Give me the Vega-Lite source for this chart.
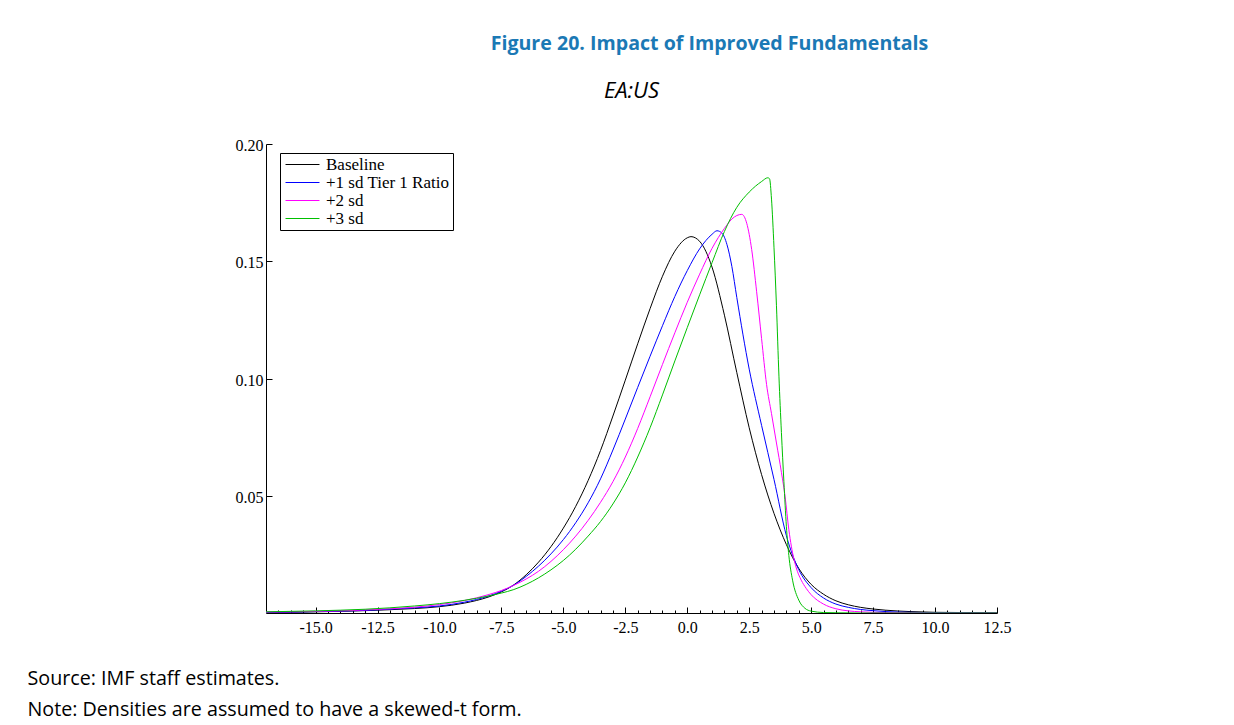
{
  "$schema": "https://vega.github.io/schema/vega-lite/v6.json",
  "width": 731,
  "height": 469,
  "autosize": "none",
  "padding": {"left": 266, "top": 144, "right": 237, "bottom": 112},
  "background": "white",
  "title": {
    "text": "Figure 20. Impact of Improved Fundamentals",
    "font": "Open Sans",
    "fontSize": 19.6,
    "fontWeight": "bold",
    "color": "#1b79b5",
    "anchor": "middle",
    "dx": 78,
    "offset": 24
  },
  "datasets": {
    "dens": [
      {"series": "Baseline", "x": -17, "d": 0.0002},
      {"series": "Baseline", "x": -16, "d": 0.0003},
      {"series": "Baseline", "x": -15, "d": 0.0005},
      {"series": "Baseline", "x": -14, "d": 0.0007},
      {"series": "Baseline", "x": -13, "d": 0.0010},
      {"series": "Baseline", "x": -12, "d": 0.0014},
      {"series": "Baseline", "x": -11, "d": 0.0019},
      {"series": "Baseline", "x": -10, "d": 0.0027},
      {"series": "Baseline", "x": -9, "d": 0.0042},
      {"series": "Baseline", "x": -8, "d": 0.0069},
      {"series": "Baseline", "x": -7.5, "d": 0.0090},
      {"series": "Baseline", "x": -7, "d": 0.0120},
      {"series": "Baseline", "x": -6.5, "d": 0.0163},
      {"series": "Baseline", "x": -6, "d": 0.0217},
      {"series": "Baseline", "x": -5.5, "d": 0.0283},
      {"series": "Baseline", "x": -5, "d": 0.0362},
      {"series": "Baseline", "x": -4.5, "d": 0.0455},
      {"series": "Baseline", "x": -4, "d": 0.0565},
      {"series": "Baseline", "x": -3.5, "d": 0.0693},
      {"series": "Baseline", "x": -3, "d": 0.0840},
      {"series": "Baseline", "x": -2.5, "d": 0.0993},
      {"series": "Baseline", "x": -2, "d": 0.1148},
      {"series": "Baseline", "x": -1.5, "d": 0.1298},
      {"series": "Baseline", "x": -1, "d": 0.1436},
      {"series": "Baseline", "x": -0.5, "d": 0.1543},
      {"series": "Baseline", "x": 0, "d": 0.1600},
      {"series": "Baseline", "x": 0.15, "d": 0.1605},
      {"series": "Baseline", "x": 0.5, "d": 0.1585},
      {"series": "Baseline", "x": 1, "d": 0.1475},
      {"series": "Baseline", "x": 1.5, "d": 0.1270},
      {"series": "Baseline", "x": 2, "d": 0.1025},
      {"series": "Baseline", "x": 2.5, "d": 0.0790},
      {"series": "Baseline", "x": 3, "d": 0.0590},
      {"series": "Baseline", "x": 3.5, "d": 0.0425},
      {"series": "Baseline", "x": 4, "d": 0.0292},
      {"series": "Baseline", "x": 4.5, "d": 0.0190},
      {"series": "Baseline", "x": 5, "d": 0.0122},
      {"series": "Baseline", "x": 5.5, "d": 0.0080},
      {"series": "Baseline", "x": 6, "d": 0.0052},
      {"series": "Baseline", "x": 6.5, "d": 0.0035},
      {"series": "Baseline", "x": 7, "d": 0.0024},
      {"series": "Baseline", "x": 7.5, "d": 0.0017},
      {"series": "Baseline", "x": 8, "d": 0.0012},
      {"series": "Baseline", "x": 9, "d": 0.0006},
      {"series": "Baseline", "x": 10, "d": 0.0003},
      {"series": "Baseline", "x": 11, "d": 0.0002},
      {"series": "Baseline", "x": 12.5, "d": 0.0001},

      {"series": "+1 sd Tier 1 Ratio", "x": -17, "d": 0.0003},
      {"series": "+1 sd Tier 1 Ratio", "x": -16, "d": 0.0004},
      {"series": "+1 sd Tier 1 Ratio", "x": -15, "d": 0.0006},
      {"series": "+1 sd Tier 1 Ratio", "x": -14, "d": 0.0008},
      {"series": "+1 sd Tier 1 Ratio", "x": -13, "d": 0.0011},
      {"series": "+1 sd Tier 1 Ratio", "x": -12, "d": 0.0016},
      {"series": "+1 sd Tier 1 Ratio", "x": -11, "d": 0.0022},
      {"series": "+1 sd Tier 1 Ratio", "x": -10, "d": 0.0030},
      {"series": "+1 sd Tier 1 Ratio", "x": -9, "d": 0.0046},
      {"series": "+1 sd Tier 1 Ratio", "x": -8, "d": 0.0073},
      {"series": "+1 sd Tier 1 Ratio", "x": -7.5, "d": 0.0093},
      {"series": "+1 sd Tier 1 Ratio", "x": -7, "d": 0.0119},
      {"series": "+1 sd Tier 1 Ratio", "x": -6.5, "d": 0.0156},
      {"series": "+1 sd Tier 1 Ratio", "x": -6, "d": 0.0200},
      {"series": "+1 sd Tier 1 Ratio", "x": -5.5, "d": 0.0252},
      {"series": "+1 sd Tier 1 Ratio", "x": -5, "d": 0.0313},
      {"series": "+1 sd Tier 1 Ratio", "x": -4.5, "d": 0.0385},
      {"series": "+1 sd Tier 1 Ratio", "x": -4, "d": 0.0470},
      {"series": "+1 sd Tier 1 Ratio", "x": -3.5, "d": 0.0572},
      {"series": "+1 sd Tier 1 Ratio", "x": -3, "d": 0.0695},
      {"series": "+1 sd Tier 1 Ratio", "x": -2.5, "d": 0.0827},
      {"series": "+1 sd Tier 1 Ratio", "x": -2, "d": 0.0962},
      {"series": "+1 sd Tier 1 Ratio", "x": -1.5, "d": 0.1095},
      {"series": "+1 sd Tier 1 Ratio", "x": -1, "d": 0.1225},
      {"series": "+1 sd Tier 1 Ratio", "x": -0.5, "d": 0.1350},
      {"series": "+1 sd Tier 1 Ratio", "x": 0, "d": 0.1460},
      {"series": "+1 sd Tier 1 Ratio", "x": 0.5, "d": 0.1553},
      {"series": "+1 sd Tier 1 Ratio", "x": 1, "d": 0.1615},
      {"series": "+1 sd Tier 1 Ratio", "x": 1.2, "d": 0.1630},
      {"series": "+1 sd Tier 1 Ratio", "x": 1.4, "d": 0.1620},
      {"series": "+1 sd Tier 1 Ratio", "x": 1.6, "d": 0.1572},
      {"series": "+1 sd Tier 1 Ratio", "x": 1.8, "d": 0.1478},
      {"series": "+1 sd Tier 1 Ratio", "x": 2, "d": 0.1345},
      {"series": "+1 sd Tier 1 Ratio", "x": 2.5, "d": 0.1040},
      {"series": "+1 sd Tier 1 Ratio", "x": 3, "d": 0.0800},
      {"series": "+1 sd Tier 1 Ratio", "x": 3.5, "d": 0.0570},
      {"series": "+1 sd Tier 1 Ratio", "x": 4, "d": 0.0330},
      {"series": "+1 sd Tier 1 Ratio", "x": 4.5, "d": 0.0185},
      {"series": "+1 sd Tier 1 Ratio", "x": 5, "d": 0.0108},
      {"series": "+1 sd Tier 1 Ratio", "x": 5.5, "d": 0.0064},
      {"series": "+1 sd Tier 1 Ratio", "x": 6, "d": 0.0038},
      {"series": "+1 sd Tier 1 Ratio", "x": 6.5, "d": 0.0024},
      {"series": "+1 sd Tier 1 Ratio", "x": 7, "d": 0.0015},
      {"series": "+1 sd Tier 1 Ratio", "x": 7.5, "d": 0.0010},
      {"series": "+1 sd Tier 1 Ratio", "x": 8, "d": 0.0006},
      {"series": "+1 sd Tier 1 Ratio", "x": 9, "d": 0.0003},
      {"series": "+1 sd Tier 1 Ratio", "x": 10, "d": 0.0001},
      {"series": "+1 sd Tier 1 Ratio", "x": 12.5, "d": 0.0000},

      {"series": "+2 sd", "x": -17, "d": 0.0004},
      {"series": "+2 sd", "x": -16, "d": 0.0005},
      {"series": "+2 sd", "x": -15, "d": 0.0007},
      {"series": "+2 sd", "x": -14, "d": 0.0009},
      {"series": "+2 sd", "x": -13, "d": 0.0013},
      {"series": "+2 sd", "x": -12, "d": 0.0018},
      {"series": "+2 sd", "x": -11, "d": 0.0025},
      {"series": "+2 sd", "x": -10, "d": 0.0036},
      {"series": "+2 sd", "x": -9, "d": 0.0053},
      {"series": "+2 sd", "x": -8, "d": 0.0079},
      {"series": "+2 sd", "x": -7.5, "d": 0.0096},
      {"series": "+2 sd", "x": -7, "d": 0.0118},
      {"series": "+2 sd", "x": -6.5, "d": 0.0145},
      {"series": "+2 sd", "x": -6, "d": 0.0178},
      {"series": "+2 sd", "x": -5.5, "d": 0.0220},
      {"series": "+2 sd", "x": -5, "d": 0.0270},
      {"series": "+2 sd", "x": -4.5, "d": 0.0328},
      {"series": "+2 sd", "x": -4, "d": 0.0395},
      {"series": "+2 sd", "x": -3.5, "d": 0.0472},
      {"series": "+2 sd", "x": -3, "d": 0.0560},
      {"series": "+2 sd", "x": -2.5, "d": 0.0665},
      {"series": "+2 sd", "x": -2, "d": 0.0787},
      {"series": "+2 sd", "x": -1.5, "d": 0.0922},
      {"series": "+2 sd", "x": -1, "d": 0.1060},
      {"series": "+2 sd", "x": -0.5, "d": 0.1195},
      {"series": "+2 sd", "x": 0, "d": 0.1325},
      {"series": "+2 sd", "x": 0.5, "d": 0.1445},
      {"series": "+2 sd", "x": 1, "d": 0.1555},
      {"series": "+2 sd", "x": 1.5, "d": 0.1640},
      {"series": "+2 sd", "x": 1.8, "d": 0.1680},
      {"series": "+2 sd", "x": 2, "d": 0.1695},
      {"series": "+2 sd", "x": 2.2, "d": 0.1700},
      {"series": "+2 sd", "x": 2.4, "d": 0.1662},
      {"series": "+2 sd", "x": 2.6, "d": 0.1550},
      {"series": "+2 sd", "x": 2.8, "d": 0.1370},
      {"series": "+2 sd", "x": 3, "d": 0.1170},
      {"series": "+2 sd", "x": 3.2, "d": 0.0975},
      {"series": "+2 sd", "x": 3.4, "d": 0.0850},
      {"series": "+2 sd", "x": 3.6, "d": 0.0725},
      {"series": "+2 sd", "x": 3.8, "d": 0.0600},
      {"series": "+2 sd", "x": 3.95, "d": 0.0495},
      {"series": "+2 sd", "x": 4.1, "d": 0.0355},
      {"series": "+2 sd", "x": 4.2, "d": 0.0285},
      {"series": "+2 sd", "x": 4.4, "d": 0.0192},
      {"series": "+2 sd", "x": 4.6, "d": 0.0140},
      {"series": "+2 sd", "x": 4.8, "d": 0.0105},
      {"series": "+2 sd", "x": 5, "d": 0.0078},
      {"series": "+2 sd", "x": 5.5, "d": 0.0038},
      {"series": "+2 sd", "x": 6, "d": 0.0018},
      {"series": "+2 sd", "x": 6.5, "d": 0.0009},
      {"series": "+2 sd", "x": 7, "d": 0.0005},
      {"series": "+2 sd", "x": 8, "d": 0.0002},
      {"series": "+2 sd", "x": 9, "d": 0.0001},
      {"series": "+2 sd", "x": 10, "d": 0.0000},
      {"series": "+2 sd", "x": 12.5, "d": 0.0000},

      {"series": "+3 sd", "x": -17, "d": 0.0005},
      {"series": "+3 sd", "x": -16, "d": 0.0007},
      {"series": "+3 sd", "x": -15, "d": 0.0009},
      {"series": "+3 sd", "x": -14, "d": 0.0012},
      {"series": "+3 sd", "x": -13, "d": 0.0016},
      {"series": "+3 sd", "x": -12, "d": 0.0022},
      {"series": "+3 sd", "x": -11, "d": 0.0030},
      {"series": "+3 sd", "x": -10, "d": 0.0040},
      {"series": "+3 sd", "x": -9, "d": 0.0054},
      {"series": "+3 sd", "x": -8, "d": 0.0073},
      {"series": "+3 sd", "x": -7.5, "d": 0.0085},
      {"series": "+3 sd", "x": -7, "d": 0.0100},
      {"series": "+3 sd", "x": -6.5, "d": 0.0122},
      {"series": "+3 sd", "x": -6, "d": 0.0150},
      {"series": "+3 sd", "x": -5.5, "d": 0.0184},
      {"series": "+3 sd", "x": -5, "d": 0.0224},
      {"series": "+3 sd", "x": -4.5, "d": 0.0272},
      {"series": "+3 sd", "x": -4, "d": 0.0328},
      {"series": "+3 sd", "x": -3.5, "d": 0.0390},
      {"series": "+3 sd", "x": -3, "d": 0.0465},
      {"series": "+3 sd", "x": -2.5, "d": 0.0555},
      {"series": "+3 sd", "x": -2, "d": 0.0665},
      {"series": "+3 sd", "x": -1.5, "d": 0.0790},
      {"series": "+3 sd", "x": -1, "d": 0.0930},
      {"series": "+3 sd", "x": -0.5, "d": 0.1075},
      {"series": "+3 sd", "x": 0, "d": 0.1217},
      {"series": "+3 sd", "x": 0.5, "d": 0.1357},
      {"series": "+3 sd", "x": 1, "d": 0.1494},
      {"series": "+3 sd", "x": 1.5, "d": 0.1627},
      {"series": "+3 sd", "x": 2, "d": 0.1730},
      {"series": "+3 sd", "x": 2.5, "d": 0.1795},
      {"series": "+3 sd", "x": 3, "d": 0.1840},
      {"series": "+3 sd", "x": 3.25, "d": 0.1856},
      {"series": "+3 sd", "x": 3.32, "d": 0.1852},
      {"series": "+3 sd", "x": 3.4, "d": 0.1765},
      {"series": "+3 sd", "x": 3.5, "d": 0.1560},
      {"series": "+3 sd", "x": 3.6, "d": 0.1310},
      {"series": "+3 sd", "x": 3.7, "d": 0.1010},
      {"series": "+3 sd", "x": 3.8, "d": 0.0770},
      {"series": "+3 sd", "x": 3.9, "d": 0.0560},
      {"series": "+3 sd", "x": 4, "d": 0.0370},
      {"series": "+3 sd", "x": 4.1, "d": 0.0245},
      {"series": "+3 sd", "x": 4.25, "d": 0.0140},
      {"series": "+3 sd", "x": 4.5, "d": 0.0055},
      {"series": "+3 sd", "x": 4.75, "d": 0.0020},
      {"series": "+3 sd", "x": 5, "d": 0.0008},
      {"series": "+3 sd", "x": 5.5, "d": 0.0002},
      {"series": "+3 sd", "x": 6, "d": 0.0001},
      {"series": "+3 sd", "x": 7, "d": 0.0000},
      {"series": "+3 sd", "x": 12.5, "d": 0.0000}
    ]
  },
  "data": {"name": "dens"},
  "mark": {"type": "line", "strokeWidth": 1, "interpolate": "monotone", "clip": true},
  "encoding": {
    "x": {
      "field": "x",
      "type": "quantitative",
      "scale": {"domain": [-17, 12.5], "nice": false, "zero": false},
      "axis": {
        "values": [-16.5, -16, -15.5, -15, -14.5, -14, -13.5, -13, -12.5, -12, -11.5, -11, -10.5, -10, -9.5, -9, -8.5, -8, -7.5, -7, -6.5, -6, -5.5, -5, -4.5, -4, -3.5, -3, -2.5, -2, -1.5, -1, -0.5, 0, 0.5, 1, 1.5, 2, 2.5, 3, 3.5, 4, 4.5, 5, 5.5, 6, 6.5, 7, 7.5, 8, 8.5, 9, 9.5, 10, 10.5, 11, 11.5, 12, 12.5],
        "labelExpr": "datum.value % 2.5 === 0 ? replace(format(datum.value, '.1f'), '\u2212', '-') : ''",
        "labelFont": "Liberation Serif",
        "labelFontSize": 16,
        "labelColor": "black",
        "labelOverlap": false,
        "labelFlush": false,
        "labelPadding": 12,
        "tickSize": {"condition": {"test": "datum.value % 2.5 === 0", "value": -6}, "value": -3},
        "tickColor": "black",
        "domainColor": "black",
        "grid": false,
        "title": ["Source: IMF staff estimates.", "Note: Densities are assumed to have a skewed-t form."],
        "titleFont": "Open Sans",
        "titleFontSize": 19.7,
        "titleFontWeight": "normal",
        "titleColor": "black",
        "titleAnchor": "start",
        "titleAlign": "left",
        "titleBaseline": "alphabetic",
        "titleX": -239,
        "titleY": 71,
        "titleLineHeight": 31
      }
    },
    "y": {
      "field": "d",
      "type": "quantitative",
      "scale": {"domain": [0, 0.2], "nice": false},
      "axis": {
        "values": [0.05, 0.1, 0.15, 0.2],
        "labelExpr": "format(datum.value, '.2f')",
        "labelFont": "Liberation Serif",
        "labelFontSize": 16,
        "labelColor": "black",
        "labelPadding": 9,
        "labelOffset": 1.5,
        "tickSize": -6,
        "tickColor": "black",
        "domainColor": "black",
        "grid": false,
        "title": "EA:US",
        "titleAngle": 0,
        "titleX": 365,
        "titleY": -54,
        "titleAlign": "center",
        "titleBaseline": "middle",
        "titleFont": "Open Sans",
        "titleFontStyle": "italic",
        "titleFontWeight": "normal",
        "titleFontSize": 22,
        "titleColor": "black"
      }
    },
    "color": {
      "field": "series",
      "type": "nominal",
      "scale": {
        "domain": ["Baseline", "+1 sd Tier 1 Ratio", "+2 sd", "+3 sd"],
        "range": ["#000000", "#0000ff", "#ff00ff", "#00c000"]
      },
      "legend": {
        "orient": "none",
        "legendX": 14,
        "legendY": 9,
        "title": null,
        "strokeColor": "black",
        "fillColor": "white",
        "padding": 3,
        "symbolType": "M-3,0H3",
        "symbolSize": 128,
        "symbolStrokeWidth": 1,
        "symbolOffset": 11,
        "labelFont": "Liberation Serif",
        "labelFontSize": 17,
        "labelColor": "black",
        "labelOffset": 15,
        "rowPadding": 0
      }
    }
  },
  "config": {"view": {"stroke": null}}
}
